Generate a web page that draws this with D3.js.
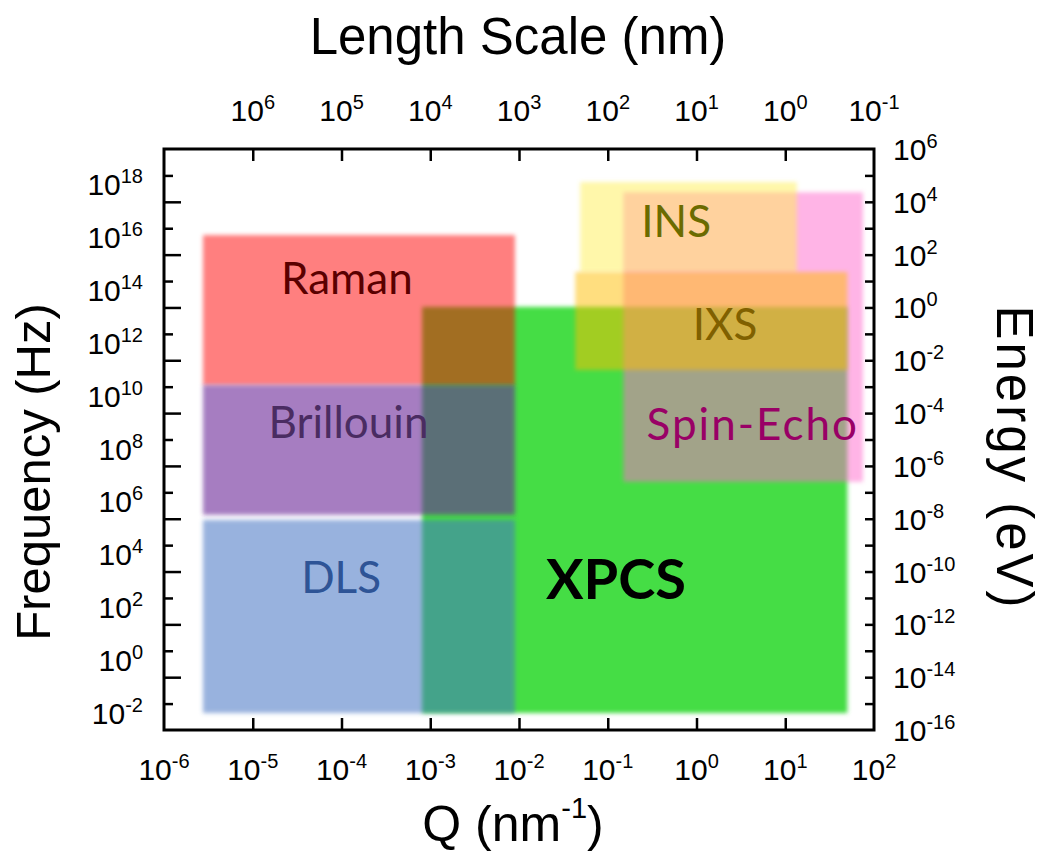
<!DOCTYPE html>
<html>
<head>
<meta charset="utf-8">
<script src="https://cdn.jsdelivr.net/npm/d3@7"></script>
<style>
  body { margin: 0; background: #fff; }
  svg { display: block; font-family: 'Liberation Sans', Arial, sans-serif; }
</style>
</head>
<body>
<div id="chart"></div>
<script>
// technique regions: Q range (nm^-1) and frequency range (Hz), drawn in this order
const techniques = ['XPCS', 'Raman', 'Brillouin', 'DLS', 'Spin-Echo', 'INS', 'IXS'];
const qMin = [8.1e-4, 2.75e-6, 2.75e-6, 2.75e-6, 0.15, 0.049, 0.043];
const qMax = [50, 9e-3, 9e-3, 9e-3, 75, 13.5, 50];
const fMin = [4.4e-3, 1.15e10, 1.4e5, 4.4e-3, 2.5e6, 2.2e14, 4.3e10];
const fMax = [1.05e13, 5.5e15, 1.15e10, 9e4, 2.3e17, 5.6e17, 2.2e14];

// where each name sits (centre Q, baseline frequency)
const labelQ = [0.124, 1.15e-4, 1.2e-4, 9.9e-5, 4.3, 0.59, 2.1];
const labelF = [91, 3.2e13, 1.15e8, 155, 9.5e7, 4.7e15, 5.9e11];

// tick labels, as powers of ten
const qExps = [-6, -5, -4, -3, -2, -1, 0, 1, 2];
const lengthExps = [6, 5, 4, 3, 2, 1, 0, -1];
const freqExps = [-2, 0, 2, 4, 6, 8, 10, 12, 14, 16, 18];
const energyExps = [-16, -14, -12, -10, -8, -6, -4, -2, 0, 2, 4, 6];

const fills = {
  'XPCS': 'rgb(68,221,68)',
  'Raman': 'rgba(255,0,0,0.5)',
  'Brillouin': 'rgba(107,42,152,0.6)',
  'DLS': 'rgba(65,115,195,0.55)',
  'Spin-Echo': 'rgba(255,105,205,0.5)',
  'INS': 'rgba(255,240,85,0.5)',
  'IXS': 'rgba(255,190,12,0.5)'
};
const textColors = {
  'XPCS': '#000',
  'Raman': '#5a0000',
  'Brillouin': '#4a2c62',
  'DLS': '#2e5496',
  'Spin-Echo': '#990066',
  'INS': '#6b6b00',
  'IXS': '#806000'
};

const W = 1043, H = 853;
const plotLeft = 164, plotRight = 874, plotTop = 149, plotBottom = 730;

const svg = d3.select('#chart').append('svg').attr('width', W).attr('height', H);

svg.append('defs').append('filter')
  .attr('id', 'soft')
  .attr('x', '-10%').attr('y', '-10%').attr('width', '120%').attr('height', '120%')
  .append('feGaussianBlur').attr('stdDeviation', 2);

const x = d3.scaleLog().domain([1e-6, 1e2]).range([plotLeft, plotRight]);
const xLen = d3.scaleLog().domain([1e7, 1e-1]).range([plotLeft, plotRight]); // length = 10 / Q
const y = d3.scaleLog().domain([1e-3, 1e19]).range([plotBottom, plotTop]);
const yE = d3.scaleLog().domain([1e-16, 1e6]).range([plotBottom, plotTop]);

// regions
svg.append('g')
  .selectAll('rect')
  .data(techniques)
  .enter()
  .append('rect')
  .attr('x', (d, i) => x(qMin[i]))
  .attr('y', (d, i) => y(fMax[i]))
  .attr('width', (d, i) => x(qMax[i]) - x(qMin[i]))
  .attr('height', (d, i) => y(fMin[i]) - y(fMax[i]))
  .attr('fill', d => fills[d])
  .attr('filter', 'url(#soft)');

svg.append('g')
  .selectAll('text')
  .data(techniques)
  .enter()
  .append('text')
  .attr('x', (d, i) => x(labelQ[i]))
  .attr('y', (d, i) => y(labelF[i]))
  .attr('text-anchor', 'middle')
  .style('font-family', "Lato, 'Open Sans', sans-serif")
  .style('font-size', d => (d === 'XPCS' ? '56px' : '44px'))
  .style('font-weight', d => (d === 'XPCS' ? 700 : 400))
  .style('letter-spacing', d => (d === 'Spin-Echo' ? '2px' : null))
  .attr('fill', d => textColors[d])
  .text(d => d);

// axes: tick marks only, pointing inward
const pow10 = e => Math.pow(10, e);
const styleAxis = g => {
  g.select('.domain').remove();
  g.selectAll('line').attr('stroke', '#000').attr('stroke-width', 2.5);
};

svg.append('g').attr('transform', 'translate(0,' + plotBottom + ')')
  .call(d3.axisBottom(x).tickValues(d3.range(-5, 2).map(pow10)).tickSize(-12).tickFormat(''))
  .call(styleAxis);

svg.append('g').attr('transform', 'translate(0,' + plotTop + ')')
  .call(d3.axisTop(xLen).tickValues(d3.range(0, 7).map(pow10)).tickSize(-12).tickFormat(''))
  .call(styleAxis);

svg.append('g').attr('transform', 'translate(' + plotLeft + ',0)')
  .call(d3.axisLeft(y).tickValues(freqExps.map(pow10)).tickSize(-9).tickFormat(''))
  .call(styleAxis);

svg.append('g').attr('transform', 'translate(' + plotLeft + ',0)')
  .call(d3.axisLeft(y).tickValues(d3.range(-1, 19, 2).map(pow10)).tickSize(-17).tickFormat(''))
  .call(styleAxis);

svg.append('g').attr('transform', 'translate(' + plotRight + ',0)')
  .call(d3.axisRight(yE).tickValues(d3.range(-15, 6).map(pow10)).tickSize(-9).tickFormat(''))
  .call(styleAxis);

svg.append('rect')
  .attr('x', plotLeft).attr('y', plotTop)
  .attr('width', plotRight - plotLeft).attr('height', plotBottom - plotTop)
  .attr('fill', 'none').attr('stroke', '#000').attr('stroke-width', 3);

// "10" with a raised exponent
const powerLabel = (sel, expOf) => {
  sel.append('tspan').text('10');
  sel.append('tspan').attr('dy', -12).style('font-size', '20px').text(d => expOf(d));
};

svg.append('g').selectAll('text').data(qExps).enter().append('text')
  .attr('x', d => x(pow10(d))).attr('y', 780)
  .attr('text-anchor', 'middle').style('font-size', '30px')
  .call(powerLabel, d => d);

svg.append('g').selectAll('text').data(lengthExps).enter().append('text')
  .attr('x', d => xLen(pow10(d))).attr('y', 121)
  .attr('text-anchor', 'middle').style('font-size', '30px')
  .call(powerLabel, d => d);

svg.append('g').selectAll('text').data(freqExps).enter().append('text')
  .attr('x', 143).attr('y', d => y(pow10(d)) + 20)
  .attr('text-anchor', 'end').style('font-size', '30px')
  .call(powerLabel, d => d);

svg.append('g').selectAll('text').data(energyExps).enter().append('text')
  .attr('x', 893).attr('y', d => yE(pow10(d)) + 11)
  .attr('text-anchor', 'start').style('font-size', '30px')
  .call(powerLabel, d => d);

// axis titles
svg.append('text')
  .attr('x', 518).attr('y', 54)
  .attr('text-anchor', 'middle').style('font-size', '51px')
  .text('Length Scale (nm)');

const qTitle = svg.append('text')
  .attr('x', 513).attr('y', 841)
  .attr('text-anchor', 'middle').style('font-size', '50px');
qTitle.append('tspan').text('Q (nm');
qTitle.append('tspan').attr('dy', -23).style('font-size', '29px').text('-1');
qTitle.append('tspan').attr('dy', 23).text(')');

svg.append('text')
  .attr('transform', 'translate(50,472) rotate(-90)')
  .attr('text-anchor', 'middle').style('font-size', '49px')
  .text('Frequency (Hz)');

svg.append('text')
  .attr('transform', 'translate(997,458) rotate(90)')
  .attr('text-anchor', 'middle').style('font-size', '51px')
  .style('letter-spacing', '3px')
  .text('Energy (eV)');
</script>
</body>
</html>
